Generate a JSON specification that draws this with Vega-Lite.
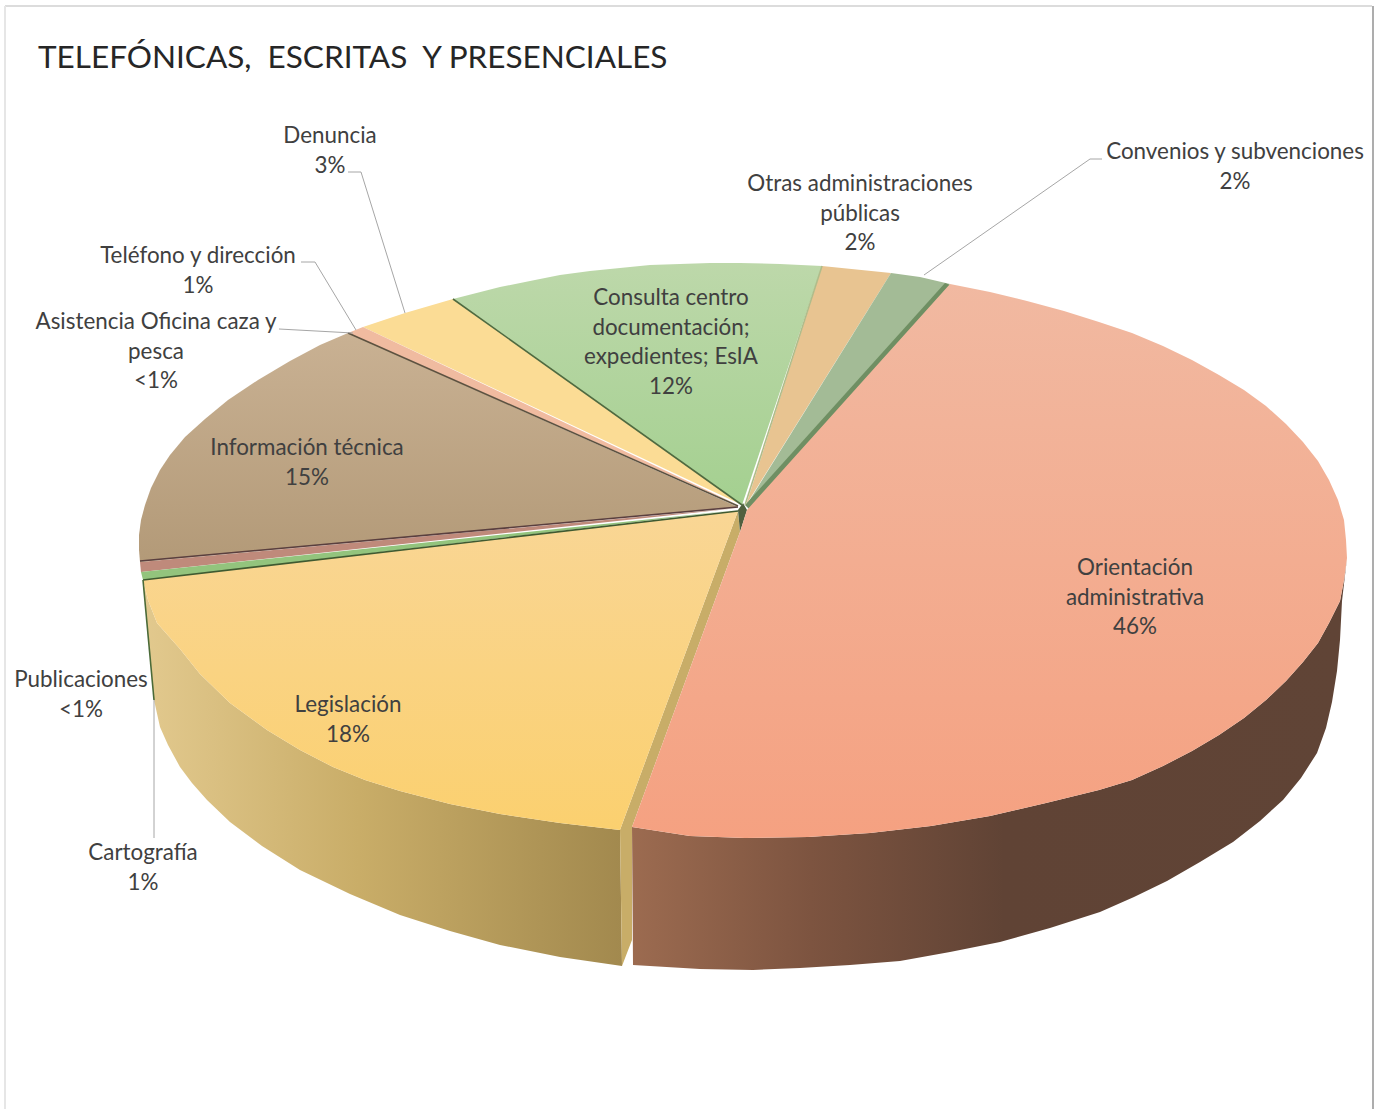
{
"$schema":"https://vega.github.io/schema/vega-lite/v6.json",
"width":1384,"height":1109,"padding":0,"autosize":{"type":"none"},"background":"white",
"config":{"view":{"stroke":null}},
"title":{"text":"TELEFÓNICAS,\u00a0\u00a0ESCRITAS\u00a0\u00a0Y PRESENCIALES","anchor":"start","frame":"group","dx":38,"dy":74,"offset":0,"fontSize":31.5,"font":"Lato","fontWeight":"normal","color":"#262626"},
"resolve":{"scale":{"stroke":"independent","strokeWidth":"independent"}},
"datasets":{
"orientTop":[{"n":1,"x":747,"y":510},{"n":2,"x":950,"y":284},{"n":3,"x":990,"y":292},{"n":4,"x":1027,"y":301},{"n":5,"x":1064,"y":311},{"n":6,"x":1099,"y":322},{"n":7,"x":1132,"y":333},{"n":8,"x":1163,"y":346},{"n":9,"x":1192,"y":360},{"n":10,"x":1219,"y":375},{"n":11,"x":1244,"y":390},{"n":12,"x":1266,"y":406},{"n":13,"x":1286,"y":424},{"n":14,"x":1303,"y":442},{"n":15,"x":1318,"y":461},{"n":16,"x":1329,"y":480},{"n":17,"x":1338,"y":500},{"n":18,"x":1344,"y":520},{"n":19,"x":1346,"y":540},{"n":20,"x":1347,"y":558},{"n":21,"x":1344,"y":580},{"n":22,"x":1340,"y":601},{"n":23,"x":1329,"y":623},{"n":24,"x":1318,"y":643},{"n":25,"x":1303,"y":662},{"n":26,"x":1286,"y":681},{"n":27,"x":1266,"y":700},{"n":28,"x":1244,"y":718},{"n":29,"x":1219,"y":735},{"n":30,"x":1192,"y":751},{"n":31,"x":1163,"y":766},{"n":32,"x":1132,"y":780},{"n":33,"x":1099,"y":790},{"n":34,"x":1046,"y":803},{"n":35,"x":990,"y":816},{"n":36,"x":931,"y":826},{"n":37,"x":870,"y":833},{"n":38,"x":808,"y":837},{"n":39,"x":745,"y":838},{"n":40,"x":690,"y":836},{"n":41,"x":632,"y":827},{"n":42,"x":740,"y":532}],
"orientSide":[{"n":1,"x":1347,"y":558},{"n":2,"x":1344,"y":580},{"n":3,"x":1340,"y":601},{"n":4,"x":1329,"y":623},{"n":5,"x":1318,"y":643},{"n":6,"x":1303,"y":662},{"n":7,"x":1286,"y":681},{"n":8,"x":1266,"y":700},{"n":9,"x":1244,"y":718},{"n":10,"x":1219,"y":735},{"n":11,"x":1192,"y":751},{"n":12,"x":1163,"y":766},{"n":13,"x":1132,"y":780},{"n":14,"x":1099,"y":790},{"n":15,"x":1046,"y":803},{"n":16,"x":990,"y":816},{"n":17,"x":931,"y":826},{"n":18,"x":870,"y":833},{"n":19,"x":808,"y":837},{"n":20,"x":745,"y":838},{"n":21,"x":690,"y":836},{"n":22,"x":632,"y":827},{"n":23,"x":633,"y":965},{"n":24,"x":700,"y":969},{"n":25,"x":753,"y":970},{"n":26,"x":800,"y":968},{"n":27,"x":850,"y":965},{"n":28,"x":900,"y":961},{"n":29,"x":950,"y":952},{"n":30,"x":1000,"y":942},{"n":31,"x":1050,"y":928},{"n":32,"x":1100,"y":912},{"n":33,"x":1134,"y":897},{"n":34,"x":1167,"y":881},{"n":35,"x":1200,"y":862},{"n":36,"x":1233,"y":842},{"n":37,"x":1260,"y":821},{"n":38,"x":1283,"y":800},{"n":39,"x":1301,"y":778},{"n":40,"x":1317,"y":753},{"n":41,"x":1326,"y":728},{"n":42,"x":1332,"y":702},{"n":43,"x":1337,"y":671},{"n":44,"x":1340,"y":640},{"n":45,"x":1342,"y":601}],
"legisTop":[{"n":1,"x":738,"y":511},{"n":2,"x":143,"y":580},{"n":3,"x":148,"y":600},{"n":4,"x":157,"y":623},{"n":5,"x":180,"y":649},{"n":6,"x":200,"y":674},{"n":7,"x":230,"y":703},{"n":8,"x":267,"y":730},{"n":9,"x":300,"y":750},{"n":10,"x":333,"y":767},{"n":11,"x":365,"y":780},{"n":12,"x":400,"y":791},{"n":13,"x":450,"y":804},{"n":14,"x":500,"y":814},{"n":15,"x":560,"y":823},{"n":16,"x":620,"y":830}],
"legisSide":[{"n":1,"x":143,"y":580},{"n":2,"x":148,"y":600},{"n":3,"x":157,"y":623},{"n":4,"x":180,"y":649},{"n":5,"x":200,"y":674},{"n":6,"x":230,"y":703},{"n":7,"x":267,"y":730},{"n":8,"x":300,"y":750},{"n":9,"x":333,"y":767},{"n":10,"x":365,"y":780},{"n":11,"x":400,"y":791},{"n":12,"x":450,"y":804},{"n":13,"x":500,"y":814},{"n":14,"x":560,"y":823},{"n":15,"x":620,"y":830},{"n":16,"x":622,"y":966},{"n":17,"x":560,"y":957},{"n":18,"x":500,"y":945},{"n":19,"x":450,"y":931},{"n":20,"x":400,"y":915},{"n":21,"x":350,"y":894},{"n":22,"x":300,"y":870},{"n":23,"x":262,"y":846},{"n":24,"x":230,"y":822},{"n":25,"x":207,"y":800},{"n":26,"x":192,"y":783},{"n":27,"x":180,"y":767},{"n":28,"x":168,"y":745},{"n":29,"x":160,"y":727},{"n":30,"x":154,"y":700}],
"infoTop":[{"n":1,"x":738,"y":507},{"n":2,"x":348,"y":333},{"n":3,"x":320,"y":345},{"n":4,"x":290,"y":361},{"n":5,"x":258,"y":380},{"n":6,"x":228,"y":400},{"n":7,"x":205,"y":419},{"n":8,"x":185,"y":437},{"n":9,"x":170,"y":455},{"n":10,"x":160,"y":470},{"n":11,"x":151,"y":488},{"n":12,"x":145,"y":505},{"n":13,"x":141,"y":520},{"n":14,"x":139,"y":535},{"n":15,"x":139,"y":550},{"n":16,"x":140,"y":562}],
"consultaTop":[{"n":1,"x":742,"y":505},{"n":2,"x":453,"y":299},{"n":3,"x":500,"y":287},{"n":4,"x":530,"y":281},{"n":5,"x":560,"y":275},{"n":6,"x":590,"y":271},{"n":7,"x":620,"y":268},{"n":8,"x":650,"y":265},{"n":9,"x":680,"y":264},{"n":10,"x":710,"y":263},{"n":11,"x":740,"y":263},{"n":12,"x":780,"y":264},{"n":13,"x":822,"y":266}],
"flat":[
{"part":"Otras","n":1,"x":746,"y":505},{"part":"Otras","n":2,"x":822,"y":266},{"part":"Otras","n":3,"x":891,"y":273},
{"part":"Convenios","n":1,"x":746,"y":506},{"part":"Convenios","n":2,"x":891,"y":273},{"part":"Convenios","n":3,"x":920,"y":277},{"part":"Convenios","n":4,"x":950,"y":284},
{"part":"Denuncia","n":1,"x":742,"y":505},{"part":"Denuncia","n":2,"x":363,"y":327},{"part":"Denuncia","n":3,"x":405,"y":313},{"part":"Denuncia","n":4,"x":453,"y":299},
{"part":"Asistencia","n":1,"x":740,"y":506},{"part":"Asistencia","n":2,"x":348,"y":333},{"part":"Asistencia","n":3,"x":363,"y":327},
{"part":"Publicaciones","n":1,"x":738,"y":508},{"part":"Publicaciones","n":2,"x":140,"y":562},{"part":"Publicaciones","n":3,"x":141,"y":572},
{"part":"Cartografia","n":1,"x":738,"y":510},{"part":"Cartografia","n":2,"x":141,"y":572},{"part":"Cartografia","n":3,"x":143,"y":580},
{"part":"Pared","n":1,"x":738,"y":511},{"part":"Pared","n":2,"x":620,"y":830},{"part":"Pared","n":3,"x":622,"y":966},{"part":"Pared","n":4,"x":632,"y":940},{"part":"Pared","n":5,"x":632,"y":827},{"part":"Pared","n":6,"x":740,"y":532},
{"part":"ParedVerde","n":1,"x":950,"y":285},{"part":"ParedVerde","n":2,"x":945,"y":283},{"part":"ParedVerde","n":3,"x":745,"y":505},{"part":"ParedVerde","n":4,"x":749,"y":509},
{"part":"Centro","n":1,"x":743,"y":503},{"part":"Centro","n":2,"x":747,"y":510},{"part":"Centro","n":3,"x":740,"y":532},{"part":"Centro","n":4,"x":738,"y":510}
],
"seams":[
{"seam":"a","n":1,"x":348,"y":333},{"seam":"a","n":2,"x":738,"y":506},
{"seam":"b","n":1,"x":453,"y":299},{"seam":"b","n":2,"x":742,"y":505},
{"seam":"c","n":1,"x":140,"y":561},{"seam":"c","n":2,"x":738,"y":507},
{"seam":"d","n":1,"x":143,"y":580},{"seam":"d","n":2,"x":738,"y":511},
{"seam":"e","n":1,"x":143,"y":580},{"seam":"e","n":2,"x":154,"y":700},
{"seam":"f","n":1,"x":822,"y":266},{"seam":"f","n":2,"x":745,"y":505}
],
"leaders":[
{"l":"Denuncia","n":1,"x":348,"y":172},{"l":"Denuncia","n":2,"x":361,"y":172},{"l":"Denuncia","n":3,"x":405,"y":313},
{"l":"Telefono","n":1,"x":301,"y":262},{"l":"Telefono","n":2,"x":315,"y":262},{"l":"Telefono","n":3,"x":356,"y":330},
{"l":"Asistencia","n":1,"x":279,"y":329},{"l":"Asistencia","n":2,"x":353,"y":333},
{"l":"Convenios","n":1,"x":1102,"y":159},{"l":"Convenios","n":2,"x":1090,"y":159},{"l":"Convenios","n":3,"x":924,"y":275},
{"l":"Cartografia","n":1,"x":154,"y":700},{"l":"Cartografia","n":2,"x":154,"y":838}
],
"frame":[
{"f":"top","n":1,"x":5,"y":6},{"f":"top","n":2,"x":1372,"y":6},
{"f":"left","n":1,"x":5,"y":6},{"f":"left","n":2,"x":5,"y":1109},
{"f":"right","n":1,"x":1373,"y":6},{"f":"right","n":2,"x":1373,"y":1109}
],
"labels":[
{"t":"Denuncia\n3%","x":330,"y":136},
{"t":"Convenios y subvenciones\n2%","x":1235,"y":152},
{"t":"Otras administraciones\npúblicas\n2%","x":860,"y":184},
{"t":"Teléfono y dirección\n1%","x":198,"y":256},
{"t":"Asistencia Oficina caza y\npesca\n<1%","x":156,"y":322},
{"t":"Consulta centro\ndocumentación;\nexpedientes; EsIA\n12%","x":671,"y":298},
{"t":"Información técnica\n15%","x":307,"y":448},
{"t":"Orientación\nadministrativa\n46%","x":1135,"y":568},
{"t":"Legislación\n18%","x":348,"y":705},
{"t":"Publicaciones\n<1%","x":81,"y":680},
{"t":"Cartografía\n1%","x":143,"y":853}
]
},
"encoding":{
"x":{"field":"x","type":"quantitative","scale":{"domain":[0,1384],"nice":false,"zero":false},"axis":null},
"y":{"field":"y","type":"quantitative","scale":{"domain":[1109,0],"nice":false,"zero":false},"axis":null}
},
"layer":[
{"data":{"name":"frame"},"mark":{"type":"line","strokeCap":"butt"},"encoding":{"order":{"field":"n"},"detail":{"field":"f"},"stroke":{"field":"f","scale":{"domain":["top","left","right"],"range":["#dcdcdc","#e6e6e6","#adadad"]},"legend":null},"strokeWidth":{"field":"f","scale":{"domain":["top","left","right"],"range":[2,2,5]},"legend":null}}},
{"data":{"name":"orientSide"},"mark":{"type":"line","strokeWidth":0,"fill":{"gradient":"linear","x1":0,"y1":0,"x2":1,"y2":0,"stops":[{"offset":0,"color":"#9c6b50"},{"offset":0.25,"color":"#7d5440"},{"offset":0.52,"color":"#604335"},{"offset":1,"color":"#604436"}]}},"encoding":{"order":{"field":"n"}}},
{"data":{"name":"legisSide"},"mark":{"type":"line","strokeWidth":0,"fill":{"gradient":"linear","x1":0,"y1":0,"x2":1,"y2":0,"stops":[{"offset":0,"color":"#e2c98e"},{"offset":0.45,"color":"#c9ad68"},{"offset":1,"color":"#a2894e"}]}},"encoding":{"order":{"field":"n"}}},
{"data":{"name":"flat"},"mark":{"type":"line","strokeWidth":0},"encoding":{"order":{"field":"n"},"detail":{"field":"part"},"fill":{"field":"part","scale":{"domain":["Otras","Convenios","Denuncia","Asistencia","Publicaciones","Cartografia","Pared","ParedVerde","Centro"],"range":["#e8c491","#a3bb96","#fbdc95","#f0bba0","#bf8a7b","#93c47d","#c8ad68","#6f8f63","#50603f"]},"legend":null}}},
{"data":{"name":"consultaTop"},"mark":{"type":"line","strokeWidth":0,"fill":{"gradient":"linear","x1":0,"y1":0,"x2":0,"y2":1,"stops":[{"offset":0,"color":"#bdd8aa"},{"offset":1,"color":"#a4d090"}]}},"encoding":{"order":{"field":"n"}}},
{"data":{"name":"infoTop"},"mark":{"type":"line","strokeWidth":0,"fill":{"gradient":"linear","x1":0,"y1":0,"x2":0,"y2":1,"stops":[{"offset":0,"color":"#c9b193"},{"offset":1,"color":"#b39a78"}]}},"encoding":{"order":{"field":"n"}}},
{"data":{"name":"legisTop"},"mark":{"type":"line","strokeWidth":0,"fill":{"gradient":"linear","x1":0,"y1":0,"x2":0,"y2":1,"stops":[{"offset":0,"color":"#f9d695"},{"offset":1,"color":"#fbd06f"}]}},"encoding":{"order":{"field":"n"}}},
{"data":{"name":"orientTop"},"mark":{"type":"line","strokeWidth":0,"fill":{"gradient":"linear","x1":0,"y1":0,"x2":0,"y2":1,"stops":[{"offset":0,"color":"#f1b9a1"},{"offset":1,"color":"#f5a181"}]}},"encoding":{"order":{"field":"n"}}},
{"data":{"name":"seams"},"mark":{"type":"line","strokeWidth":1.6},"encoding":{"order":{"field":"n"},"detail":{"field":"seam"},"stroke":{"field":"seam","scale":{"domain":["a","b","c","d","e","f"],"range":["#5d5240","#4f6a40","#5a3f3f","#3f5a30","#4a6a38","#b0bc8a"]},"legend":null}}},
{"data":{"name":"leaders"},"mark":{"type":"line","strokeWidth":1,"stroke":"#a6a6a6"},"encoding":{"order":{"field":"n"},"detail":{"field":"l"}}},
{"data":{"name":"labels"},"mark":{"type":"text","font":"Lato","fontSize":22.4,"lineBreak":"\n","lineHeight":29.5,"align":"center","baseline":"middle","color":"#404040"},"encoding":{"text":{"field":"t"}}}
]
}
